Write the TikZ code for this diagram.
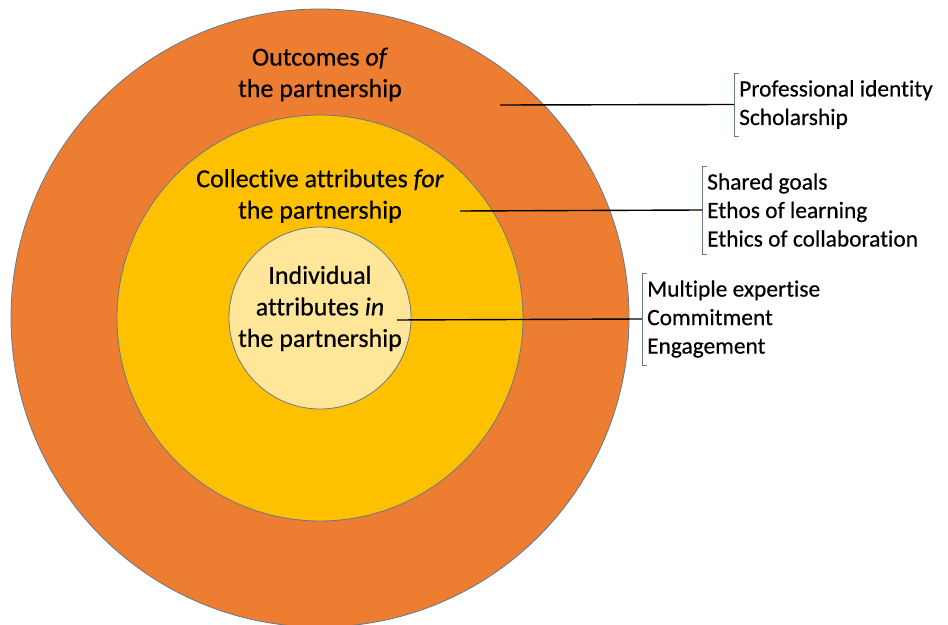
\documentclass[tikz,border=0pt]{standalone}
\usepackage{fontspec}
\setmainfont{Carlito}[Ligatures=NoCommon, FakeBold=0.4]
\usetikzlibrary{positioning}
\definecolor{ringorange}{RGB}{237,125,49}
\definecolor{ringgold}{RGB}{255,192,0}
\definecolor{ringpale}{RGB}{255,230,153}
\definecolor{ringedge}{RGB}{105,120,138}
\tikzset{
  ring/.style={circle, draw=ringedge, line width=0.8pt, inner sep=0pt},
  ringtext/.style={align=center, font=\fontsize{26}{31.5}\selectfont},
  listtext/.style={align=left, anchor=west, inner xsep=5pt, inner ysep=7pt, font=\fontsize{23.4}{28.5}\selectfont},
  link/.style={line width=1.4pt}
}
\begin{document}
\begin{tikzpicture}[x=1pt, y=1pt]
\useasboundingbox (0,0) rectangle (948,624);
\node[ring, fill=ringorange, minimum size=618pt] (outer) at (320,306) {};
\node[ring, fill=ringgold, minimum size=406pt] (middle) at (320,306) {};
\node[ring, fill=ringpale, minimum size=182pt] (inner) at (320,306) {};

\node[ringtext] (outertxt) at (320,549.5) {Outcomes \textit{of}\\the partnership};
\node[ringtext] (middletxt) at (320,428) {Collective attributes \textit{for}\\the partnership};
\node[ringtext] (innertxt) at (320,315.5) {Individual\\attributes \textit{in}\\the partnership};

\node[listtext] (outerlist) at (734,519.5) {Professional identity\\Scholarship};
\node[listtext] (middlelist) at (702,414) {Shared goals\\Ethos of learning\\Ethics of collaboration};
\node[listtext] (innerlist) at (642,305) {Multiple expertise\\Commitment\\Engagement};

\coordinate (c1) at (500,519);
\coordinate (c2) at (460,413);
\coordinate (c3) at (397,304);

\draw[link] (c1) -- (outerlist.west);
\draw[link] (c2) -- (middlelist.west);
\draw[link] (c3) -- (innerlist.west);

\draw[ringedge] ([xshift=5pt]outerlist.north west) -- (outerlist.north west) -- (outerlist.south west) -- ([xshift=5pt]outerlist.south west);
\draw[ringedge] ([xshift=5pt]middlelist.north west) -- (middlelist.north west) -- (middlelist.south west) -- ([xshift=5pt]middlelist.south west);
\draw[ringedge] ([xshift=5pt]innerlist.north west) -- (innerlist.north west) -- (innerlist.south west) -- ([xshift=5pt]innerlist.south west);
\end{tikzpicture}
\end{document}
